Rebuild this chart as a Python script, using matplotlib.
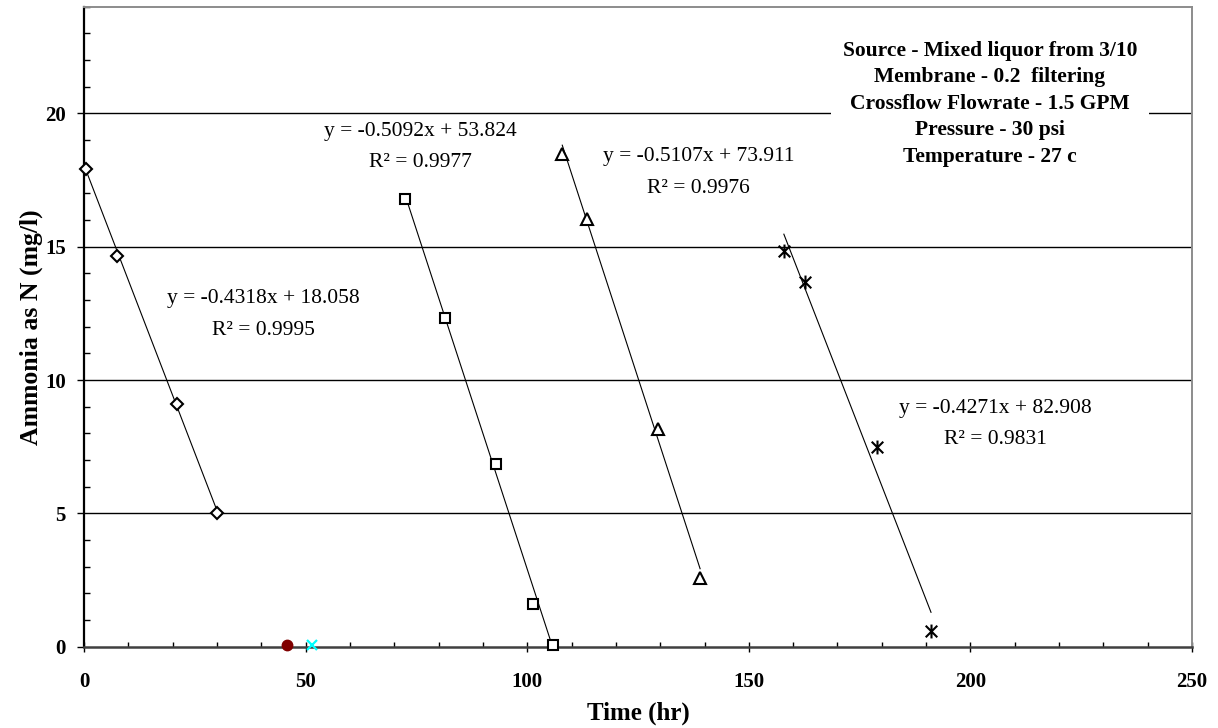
import numpy as np
import matplotlib.pyplot as plt
from matplotlib.path import Path
from matplotlib.patches import Rectangle
from matplotlib.ticker import MultipleLocator

plt.rcParams['font.family'] = ['Liberation Serif', 'DejaVu Serif']

# ammonia decay runs, time in hours, NH3-N in mg/l
run1_time = [0.4, 7.4, 20.9, 29.9]
run1_nh3 = [17.91, 14.65, 9.10, 5.02]
run2_time = [72.4, 81.45, 93.0, 101.4, 105.9]
run2_nh3 = [16.79, 12.34, 6.85, 1.61, 0.05]
run3_time = [107.9, 113.4, 129.6, 139.0]
run3_nh3 = [18.47, 16.05, 8.17, 2.56]
run4_time = [157.9, 162.7, 179.0, 191.1]
run4_nh3 = [14.85, 13.69, 7.50, 0.59]

# single readings between runs
dot_time = [45.9]
dot_nh3 = [0.05]
cross_time = [51.4]
cross_nh3 = [0.05]

# linear trendline fits
slopes = [-0.4318, -0.5092, -0.5107, -0.4271]
intercepts = [18.058, 53.824, 73.911, 82.908]
r_squared = [0.9995, 0.9977, 0.9976, 0.9831]
label_x = [40.5, 75.8, 138.6, 205.7]
label_y = [13.06, 19.33, 18.37, 8.95]

conditions = [
    "Source - Mixed liquor from 3/10",
    "Membrane - 0.2  filtering",
    "Crossflow Flowrate - 1.5 GPM",
    "Pressure - 30 psi",
    "Temperature - 27 c",
]

# Excel-style star: an X with a vertical bar through it
star = Path(
    [(-1, -1), (1, 1), (-1, 1), (1, -1), (0, -1.2), (0, 1.2)],
    [Path.MOVETO, Path.LINETO, Path.MOVETO, Path.LINETO, Path.MOVETO, Path.LINETO],
)

fig = plt.figure(figsize=(12.18, 7.28), dpi=100)
ax = fig.add_axes([0.069, 0.1117, 0.9097, 0.8791])

for yg in [5, 10, 15, 20]:
    ax.axhline(yg, color='black', lw=1.0, zorder=1)

# white text box behind the test conditions
ax.add_patch(Rectangle((168.5, 17.65), 71.8, 5.4, facecolor='white',
                       edgecolor='none', zorder=2))

runs = [
    (run1_time, run1_nh3, dict(marker='D', ms=6.2)),
    (run2_time, run2_nh3, dict(marker='s', ms=7.6)),
    (run3_time, run3_nh3, dict(marker='^', ms=8.2)),
    (run4_time, run4_nh3, dict(marker=star, ms=10.0)),
]
for i, (t, c, mk) in enumerate(runs):
    xs = np.array([min(t), max(t)])
    ax.plot(xs, slopes[i] * xs + intercepts[i], color='black', lw=0.8, zorder=3)
    ax.plot(t, c, ls='none', mfc='white', mec='black', mew=1.5, zorder=4,
            clip_on=False, **mk)
    ax.text(label_x[i], label_y[i], f"y = {slopes[i]:.4f}x + {intercepts[i]:.3f}",
            ha='center', va='center', fontsize=15.5, zorder=5)
    ax.text(label_x[i], label_y[i] - 1.19, f"R² = {r_squared[i]:.4f}",
            ha='center', va='center', fontsize=15.5, zorder=5)

ax.plot(dot_time, dot_nh3, ls='none', marker='o', ms=7.5, color='#800000',
        zorder=4, clip_on=False)
ax.plot(cross_time, cross_nh3, ls='none', marker='x', ms=7.5, mew=1.6,
        color='#00FFFF', zorder=4, clip_on=False)

for k, line in enumerate(conditions):
    ax.text(204.4, 22.34 - 0.99 * k, line, ha='center', va='center',
            fontsize=15.5, fontweight='bold', zorder=5)

ax.set_xlim(0, 250)
ax.set_ylim(0, 24)
ax.set_xticks(range(0, 251, 50))
ax.xaxis.set_minor_locator(MultipleLocator(10))
ax.set_yticks([0, 5, 10, 15, 20])
ax.yaxis.set_minor_locator(MultipleLocator(1))

ax.tick_params(axis='x', which='major', direction='inout', length=7, width=1,
               pad=15, labelsize=15)
ax.tick_params(axis='x', which='minor', direction='in', length=3.6, width=1)
ax.tick_params(axis='y', which='major', direction='out', length=5, width=1,
               pad=8, labelsize=15)
ax.tick_params(axis='y', which='minor', direction='in', length=4.3, width=1)
for lbl in ax.get_xticklabels() + ax.get_yticklabels():
    lbl.set_fontweight('bold')

ax.spines['left'].set_color('black')
ax.spines['left'].set_linewidth(1.6)
ax.spines['bottom'].set_color('#404040')
ax.spines['bottom'].set_linewidth(1.8)
for side in ['top', 'right']:
    ax.spines[side].set_color('#8c8c8c')
    ax.spines[side].set_linewidth(1.4)

ax.set_xlabel("Time (hr)", fontsize=18, fontweight='bold')
ax.set_ylabel("Ammonia as N (mg/l)", fontsize=18.5, fontweight='bold')
ax.xaxis.label.set_va('center')
ax.yaxis.label.set_va('center')
ax.xaxis.set_label_coords(0.5, -0.1036)
ax.yaxis.set_label_coords(-0.048, 0.5)

fig.savefig("out.png", dpi=100)
